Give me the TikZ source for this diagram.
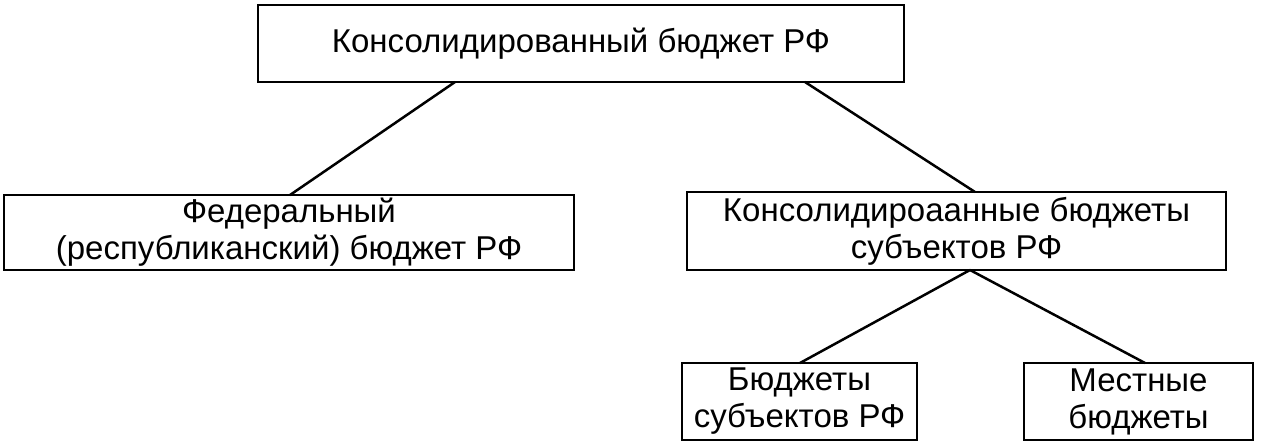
\documentclass[tikz,border=0pt]{standalone}
\usepackage{fontspec}
\setmainfont{Liberation Sans}
\begin{document}
\begin{tikzpicture}[x=1pt,y=-1pt,
  box/.style={draw,line width=2.5pt,inner sep=0pt,align=center,font=\fontsize{33}{37}\selectfont},
  ln/.style={line width=2.5pt}]
\useasboundingbox (0,0) rectangle (1263,447);
\node[box,minimum width=646,minimum height=77] (top) at (581,43.5) {Консолидированный бюджет РФ};
\node[box,minimum width=570,minimum height=75] (fed) at (289,232.5) {Федеральный\\(республиканский) бюджет РФ};
\node[box,minimum width=539,minimum height=78] (reg) at (956.5,231) {Консолидироаанные бюджеты\\субъектов РФ};
\node[box,minimum width=235,minimum height=77] (sub) at (799.5,401.5) {Бюджеты\\субъектов РФ};
\node[box,minimum width=229,minimum height=77] (loc) at (1138.5,401.5) {Местные\\бюджеты};
\coordinate (t1) at (455,82); \coordinate (t2) at (805,82);
\coordinate (f1) at (290,195); \coordinate (r1) at (975,192);
\coordinate (r2) at (970,270); \coordinate (s1) at (800,363); \coordinate (l1) at (1145,363);
\draw[ln] (t1) -- (f1);
\draw[ln] (t2) -- (r1);
\draw[ln] (r2) -- (s1);
\draw[ln] (r2) -- (l1);
\end{tikzpicture}
\end{document}
